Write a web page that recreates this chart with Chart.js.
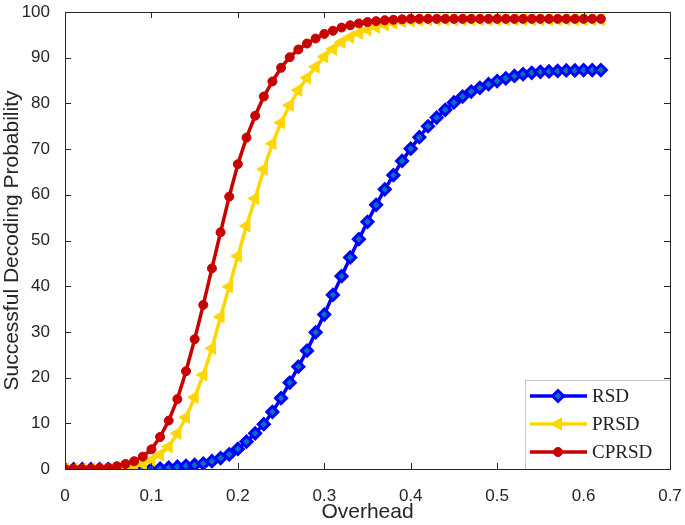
<!DOCTYPE html>
<html>
<head>
<meta charset="utf-8">
<script src="https://cdn.jsdelivr.net/npm/chart.js@4.4.1/dist/chart.umd.min.js"></script>
<style>
  html, body { margin: 0; padding: 0; background: #fff; }
</style>
</head>
<body>
<canvas id="chart" width="685" height="525"></canvas>
<script>
// Data (x step 0.01)
const overhead = [0, 0.01, 0.02, 0.03, 0.04, 0.05, 0.06, 0.07, 0.08, 0.09,
  0.10, 0.11, 0.12, 0.13, 0.14, 0.15, 0.16, 0.17, 0.18, 0.19,
  0.20, 0.21, 0.22, 0.23, 0.24, 0.25, 0.26, 0.27, 0.28, 0.29,
  0.30, 0.31, 0.32, 0.33, 0.34, 0.35, 0.36, 0.37, 0.38, 0.39,
  0.40, 0.41, 0.42, 0.43, 0.44, 0.45, 0.46, 0.47, 0.48, 0.49,
  0.50, 0.51, 0.52, 0.53, 0.54, 0.55, 0.56, 0.57, 0.58, 0.59,
  0.60, 0.61, 0.62];

const rsd = [0, 0, 0, 0, 0, 0, 0, 0, 0, 0,
  0, 0.1, 0.3, 0.5, 0.7, 0.9, 1.2, 1.7, 2.4, 3.2,
  4.4, 6.0, 7.8, 9.8, 12.5, 15.5, 18.9, 22.4, 25.9, 29.9,
  33.8, 38.1, 42.2, 46.3, 50.3, 54.1, 57.8, 61.2, 64.3, 67.4,
  70.1, 72.6, 75.0, 76.9, 78.6, 80.2, 81.5, 82.6, 83.4, 84.2,
  84.9, 85.5, 86.0, 86.4, 86.7, 86.9, 87.0, 87.1, 87.2, 87.2,
  87.3, 87.3, 87.3];

const prsd = [0, 0, 0, 0, 0, 0, 0.1, 0.3, 0.6, 1.1,
  1.9, 3.1, 4.9, 7.8, 11.3, 15.7, 20.6, 26.4, 33.3, 39.9,
  46.6, 53.2, 59.2, 65.6, 71.2, 75.8, 79.6, 82.9, 85.6, 88.0,
  90.2, 91.9, 93.4, 94.5, 95.4, 96.1, 96.7, 97.2, 97.6, 97.9,
  98.1, 98.2, 98.3, 98.3, 98.3, 98.3, 98.3, 98.3, 98.3, 98.3,
  98.3, 98.3, 98.3, 98.3, 98.3, 98.3, 98.3, 98.3, 98.3, 98.3,
  98.3, 98.3, 98.3];

const cprsd = [0, 0, 0, 0.1, 0.2, 0.3, 0.6, 1.1, 1.7, 2.7,
  4.3, 7.0, 10.6, 15.3, 21.4, 28.4, 35.9, 43.9, 51.8, 59.6,
  66.7, 72.5, 77.3, 81.5, 84.8, 87.8, 90.1, 91.8, 93.1, 94.2,
  95.2, 95.9, 96.6, 97.1, 97.5, 97.8, 98.0, 98.2, 98.3, 98.4,
  98.5, 98.5, 98.5, 98.5, 98.5, 98.5, 98.5, 98.5, 98.5, 98.5,
  98.5, 98.5, 98.5, 98.5, 98.5, 98.5, 98.5, 98.5, 98.5, 98.5,
  98.5, 98.5, 98.5];

const xTicks = [0, 0.1, 0.2, 0.3, 0.4, 0.5, 0.6, 0.7];
const yTicks = [0, 10, 20, 30, 40, 50, 60, 70, 80, 90, 100];

const axisColor = '#262626';

function toPoints(ys) {
  return overhead.map((x, i) => ({ x: x, y: ys[i] }));
}

// MATLAB-like box with inward ticks on all four sides
const frame = {
  id: 'frame',
  afterDraw(chart) {
    const { ctx, chartArea: a, scales } = chart;
    const len = 6;
    ctx.save();
    ctx.strokeStyle = axisColor;
    ctx.lineWidth = 1;
    ctx.beginPath();
    xTicks.forEach(v => {
      const px = Math.round(scales.x.getPixelForValue(v)) + 0.5;
      ctx.moveTo(px, a.bottom); ctx.lineTo(px, a.bottom - len);
      ctx.moveTo(px, a.top); ctx.lineTo(px, a.top + len);
    });
    yTicks.forEach(v => {
      const py = Math.round(scales.y.getPixelForValue(v)) + 0.5;
      ctx.moveTo(a.left, py); ctx.lineTo(a.left + len, py);
      ctx.moveTo(a.right, py); ctx.lineTo(a.right - len, py);
    });
    ctx.stroke();
    ctx.strokeRect(Math.round(a.left) + 0.5, Math.round(a.top) + 0.5,
      Math.round(a.right - a.left), Math.round(a.bottom - a.top));
    ctx.restore();
  }
};

// Legend box in the lower right corner of the plot
const boxLegend = {
  id: 'boxLegend',
  afterDraw(chart) {
    const { ctx, chartArea: a } = chart;
    const w = 145, h = 89;
    const left = Math.round(a.right) - w, top = Math.round(a.bottom) - h;
    ctx.save();
    ctx.fillStyle = '#fff';
    ctx.fillRect(left, top, w, h);
    ctx.strokeStyle = '#c8c8c8';
    ctx.lineWidth = 1;
    ctx.strokeRect(left + 0.5, top + 0.5, w, h);
    ctx.strokeStyle = axisColor;
    ctx.beginPath();
    ctx.moveTo(left + w + 0.5, top); ctx.lineTo(left + w + 0.5, top + h + 1);
    ctx.moveTo(left, top + h + 0.5); ctx.lineTo(left + w + 1, top + h + 0.5);
    ctx.stroke();

    const items = chart.data.datasets.slice().sort((p, q) => q.order - p.order);
    items.forEach((ds, i) => {
      const y = top + 16 + i * 28;
      ctx.strokeStyle = ds.borderColor;
      ctx.lineWidth = ds.borderWidth;
      ctx.beginPath();
      ctx.moveTo(left + 5, y); ctx.lineTo(left + 62, y);
      ctx.stroke();
      ctx.fillStyle = ds.pointBackgroundColor;
      ctx.strokeStyle = ds.pointBorderColor;
      ctx.lineWidth = ds.pointBorderWidth;
      Chart.helpers.drawPoint(ctx, {
        pointStyle: ds.pointStyle,
        rotation: ds.pointRotation || 0,
        radius: ds.pointRadius,
        borderWidth: ds.pointBorderWidth
      }, left + 33, y);
      ctx.fillStyle = '#222';
      ctx.font = '19px "Liberation Serif", serif';
      ctx.textBaseline = 'middle';
      ctx.fillText(ds.label, left + 67, y + 1);
    });
    ctx.restore();
  }
};

const chart = new Chart(document.getElementById('chart'), {
  type: 'line',
  data: {
    datasets: [
      {
        label: 'RSD',
        data: toPoints(rsd),
        order: 3,
        borderColor: '#0000ff',
        borderWidth: 3.5,
        pointStyle: 'rectRot',
        pointRadius: 5.5,
        pointBorderWidth: 3,
        pointBorderColor: '#0000ff',
        pointBackgroundColor: '#0072bd'
      },
      {
        label: 'PRSD',
        data: toPoints(prsd),
        order: 2,
        borderColor: '#ffd700',
        borderWidth: 3.5,
        pointStyle: 'triangle',
        pointRotation: -90,
        pointRadius: 7,
        pointBorderWidth: 1,
        pointBorderColor: '#ffd700',
        pointBackgroundColor: '#ffd700'
      },
      {
        label: 'CPRSD',
        data: toPoints(cprsd),
        order: 1,
        borderColor: '#c80000',
        borderWidth: 3.5,
        pointStyle: 'circle',
        pointRadius: 4.5,
        pointBorderWidth: 1,
        pointBorderColor: '#c80000',
        pointBackgroundColor: '#c80000'
      }
    ]
  },
  options: {
    responsive: false,
    animation: false,
    layout: { padding: { top: 12, right: 15, left: 0, bottom: 0 } },
    plugins: {
      legend: { display: false },
      tooltip: { enabled: false }
    },
    elements: { line: { tension: 0 } },
    scales: {
      x: {
        type: 'linear',
        min: 0,
        max: 0.7,
        grid: { display: false },
        border: { display: false },
        afterBuildTicks: s => { s.ticks = xTicks.map(v => ({ value: v })); },
        afterFit: s => { s.height = 56; s.paddingLeft = 0; s.paddingRight = 0; },
        ticks: {
          padding: 9,
          color: axisColor,
          font: { family: '"Liberation Sans", Arial, sans-serif', size: 17 },
          maxRotation: 0,
          callback: v => String(+v.toFixed(1))
        },
        title: {
          display: true,
          text: 'Overhead',
          color: axisColor,
          padding: { top: 0, bottom: 0 },
          font: { family: '"Liberation Sans", Arial, sans-serif', size: 21 }
        }
      },
      y: {
        min: 0,
        max: 100,
        grid: { display: false },
        border: { display: false },
        afterBuildTicks: s => { s.ticks = yTicks.map(v => ({ value: v })); },
        afterFit: s => { s.width = 65; s.paddingTop = 0; s.paddingBottom = 0; },
        ticks: {
          padding: 7,
          color: axisColor,
          font: { family: '"Liberation Sans", Arial, sans-serif', size: 17 }
        },
        title: {
          display: true,
          text: 'Successful Decoding Probability',
          color: axisColor,
          padding: { top: 0, bottom: 0 },
          font: { family: '"Liberation Sans", Arial, sans-serif', size: 21 }
        }
      }
    }
  },
  plugins: [frame, boxLegend]
});
</script>
</body>
</html>
